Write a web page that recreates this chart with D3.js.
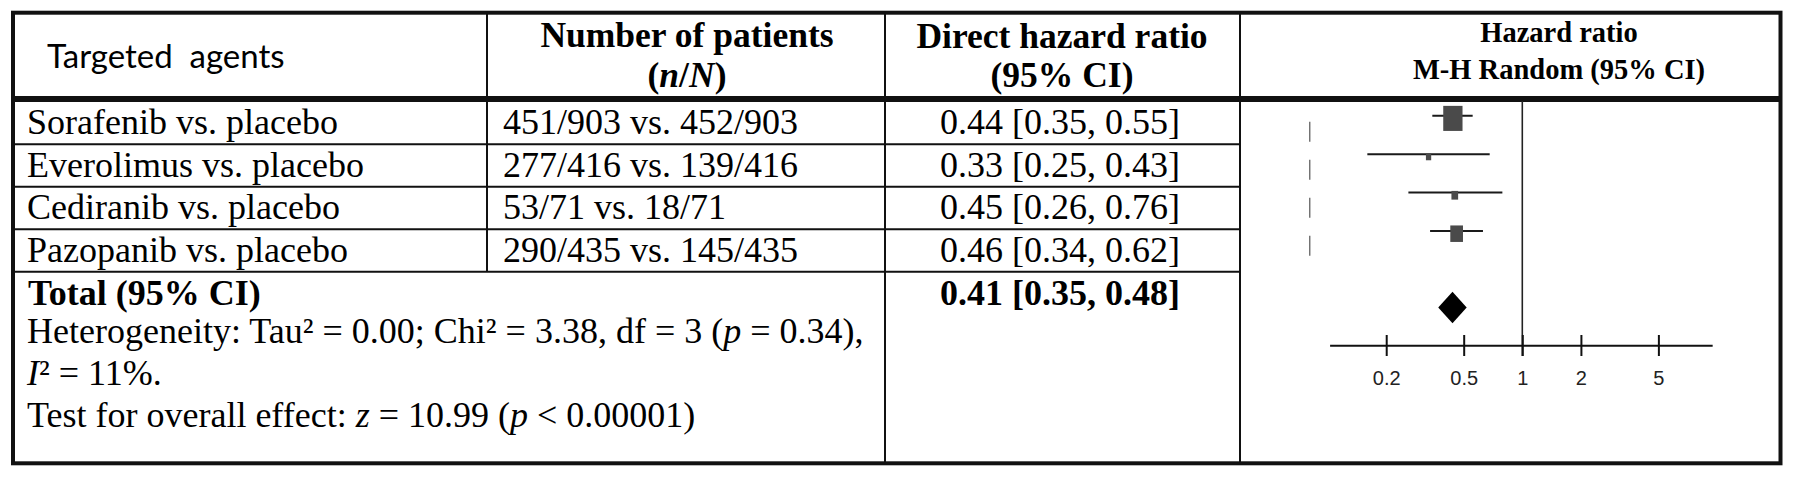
<!DOCTYPE html>
<html><head><meta charset="utf-8">
<script src="https://cdn.jsdelivr.net/npm/d3@7"></script>
<style>
body{margin:0;background:#fff}
svg text{white-space:pre}
</style></head>
<body><svg id="c" width="1795" height="477"></svg>
<script>
// ---------- data ----------
const agents = ["Sorafenib vs. placebo", "Everolimus vs. placebo", "Cediranib vs. placebo", "Pazopanib vs. placebo"];
const patients = ["451/903 vs. 452/903", "277/416 vs. 139/416", "53/71 vs. 18/71", "290/435 vs. 145/435"];
const hrLabels = ["0.44 [0.35, 0.55]", "0.33 [0.25, 0.43]", "0.45 [0.26, 0.76]", "0.46 [0.34, 0.62]"];
const totalLabel = "0.41 [0.35, 0.48]";
// values as drawn in the forest plot
const hrPoint = [0.44, 0.33, 0.45, 0.46];
const ciLowPlot = [0.345, 0.16, 0.26, 0.336];
const ciHighPlot = [0.556, 0.68, 0.79, 0.628];
const weights = [61.4, 4.6, 7.4, 26.6];
const diamondPlot = [0.37, 0.438, 0.518]; // low, estimate, high
const dashedRefValue = 0.081;
const tickValues = [0.2, 0.5, 1, 2, 5];
const tickLabels = ["0.2", "0.5", "1", "2", "5"];
const axisExtent = [0.103, 9.5];

// ---------- layout ----------
const svg = d3.select("#c");
const L = 13, R = 1780.5, T = 12.7, B = 463.3;
const col1 = 487, col2 = 885, col3 = 1240;
const headY = 99;
const serif = "'Liberation Serif','Times New Roman',serif";
const sans = "'Liberation Sans',Arial,sans-serif";

const rowBand = d3.scaleBand().domain(agents).range([101.9, 271.7]);
const xS = d3.scaleLog().domain([0.1, 10]).range([1327.6, 1717]);
const yF = d3.scalePoint().domain(agents).range([115.7, 231]);
const sizeS = d3.scaleSqrt().domain([0, 100]).range([0, 24.6]);

const ink = "#111";

// ---------- table lines ----------
const g = svg.append("g");
g.append("rect").attr("x", L).attr("y", T).attr("width", R - L).attr("height", B - T)
  .attr("fill", "none").attr("stroke", ink).attr("stroke-width", 4);
g.append("line").attr("x1", L).attr("x2", R).attr("y1", headY).attr("y2", headY)
  .attr("stroke", ink).attr("stroke-width", 6);
g.append("line").attr("x1", col1).attr("x2", col1).attr("y1", T).attr("y2", rowBand.range()[1])
  .attr("stroke", ink).attr("stroke-width", 2);
[col2, col3].forEach(c => g.append("line").attr("x1", c).attr("x2", c).attr("y1", T).attr("y2", B)
  .attr("stroke", ink).attr("stroke-width", 2));
g.selectAll(".rowline").data(agents).enter().append("line")
  .attr("x1", L).attr("x2", col3)
  .attr("y1", d => rowBand(d) + rowBand.bandwidth()).attr("y2", d => rowBand(d) + rowBand.bandwidth())
  .attr("stroke", ink).attr("stroke-width", 2);

// ---------- headers ----------
svg.append("text").attr("x", 47).attr("y", 68.3).attr("font-family", "Lato, 'Open Sans', sans-serif")
  .attr("font-size", 33).attr("fill", "#000").text("Targeted  agents");

const hdr = (x, y, size, family) => svg.append("text").attr("x", x).attr("y", y)
  .attr("text-anchor", "middle").attr("font-family", family || serif).attr("font-weight", "bold")
  .attr("font-size", size).attr("fill", "#000");
hdr(687, 46.7, 35.5).text("Number of patients");
const nN = hdr(687, 87, 35.5);
nN.append("tspan").text("(");
nN.append("tspan").attr("font-style", "italic").text("n");
nN.append("tspan").text("/");
nN.append("tspan").attr("font-style", "italic").text("N");
nN.append("tspan").text(")");
hdr(1062, 48, 35.5).text("Direct hazard ratio");
hdr(1062, 87, 35.5).text("(95% CI)");
hdr(1559, 41.7, 28.5).text("Hazard ratio");
hdr(1559, 78.5, 28.5).text("M-H Random (95% CI)");

// ---------- rows ----------
const rows = svg.append("g").attr("font-family", serif).attr("font-size", 36).attr("fill", "#000");
rows.selectAll(".ag").data(agents).enter().append("text")
  .attr("x", 27).attr("y", d => rowBand(d) + 32.5).text(d => d);
rows.selectAll(".pt").data(patients).enter().append("text")
  .attr("x", 503).attr("y", (d, i) => rowBand(agents[i]) + 32.5).text(d => d);
rows.selectAll(".hr").data(hrLabels).enter().append("text")
  .attr("x", 1060).attr("text-anchor", "middle")
  .attr("y", (d, i) => rowBand(agents[i]) + 32.5).text(d => d);

// total / stats
rows.append("text").attr("x", 28).attr("y", 305).attr("font-weight", "bold").text("Total (95% CI)");
rows.append("text").attr("x", 1060).attr("y", 305).attr("text-anchor", "middle").attr("font-weight", "bold").text(totalLabel);
const het = rows.append("text").attr("x", 27).attr("y", 343.3);
het.append("tspan").text("Heterogeneity: Tau² = 0.00; Chi² = 3.38, df = 3 (");
het.append("tspan").attr("font-style", "italic").text("p");
het.append("tspan").text(" = 0.34),");
const i2 = rows.append("text").attr("x", 27).attr("y", 385);
i2.append("tspan").attr("font-style", "italic").text("I");
i2.append("tspan").text("² = 11%.");
const tst = rows.append("text").attr("x", 27).attr("y", 426.7);
tst.append("tspan").text("Test for overall effect: ");
tst.append("tspan").attr("font-style", "italic").text("z");
tst.append("tspan").text(" = 10.99 (");
tst.append("tspan").attr("font-style", "italic").text("p");
tst.append("tspan").text(" < 0.00001)");

// ---------- forest plot ----------
const fp = svg.append("g");
// dashed line
fp.append("line").attr("x1", xS(dashedRefValue)).attr("x2", xS(dashedRefValue))
  .attr("y1", 121.7).attr("y2", 256.7).attr("stroke", "#555").attr("stroke-width", 1.2)
  .attr("stroke-dasharray", "20 18");
// line of no effect
fp.append("line").attr("x1", xS(1)).attr("x2", xS(1)).attr("y1", 101).attr("y2", 356)
  .attr("stroke", "#222").attr("stroke-width", 1.6);
// CI lines
fp.selectAll(".ci").data(agents).enter().append("line")
  .attr("x1", (d, i) => xS(ciLowPlot[i])).attr("x2", (d, i) => xS(ciHighPlot[i]))
  .attr("y1", d => yF(d)).attr("y2", d => yF(d))
  .attr("stroke", "#1a1a1a").attr("stroke-width", 2);
// squares
fp.selectAll(".sq").data(agents).enter().append("rect")
  .attr("x", (d, i) => xS(hrPoint[i]) - sizeS(weights[i]) / 2)
  .attr("y", (d, i) => yF(d) + 2.7 - sizeS(weights[i]) * 1.3 / 2)
  .attr("width", (d, i) => sizeS(weights[i]))
  .attr("height", (d, i) => sizeS(weights[i]) * 1.3)
  .attr("fill", "#4a4a4a");
// diamond
const yD = 307.5, hD = 15.8;
fp.append("path")
  .attr("d", `M${xS(diamondPlot[0])},${yD}L${xS(diamondPlot[1])},${yD - hD}L${xS(diamondPlot[2])},${yD}L${xS(diamondPlot[1])},${yD + hD}Z`)
  .attr("fill", "#000");
// axis
const axY = 345.7;
fp.append("line").attr("x1", xS(axisExtent[0])).attr("x2", xS(axisExtent[1]))
  .attr("y1", axY).attr("y2", axY).attr("stroke", "#111").attr("stroke-width", 2);
const ax = fp.append("g").attr("transform", "translate(0,335)")
  .call(d3.axisBottom(xS).tickValues(tickValues).tickFormat((d, i) => tickLabels[i])
    .tickSize(21).tickPadding(14.8));
ax.select(".domain").remove();
ax.selectAll(".tick line").attr("stroke", "#111").attr("stroke-width", 2);
ax.selectAll(".tick text").attr("font-family", sans).attr("font-size", 20).attr("fill", "#222");
</script></body></html>
